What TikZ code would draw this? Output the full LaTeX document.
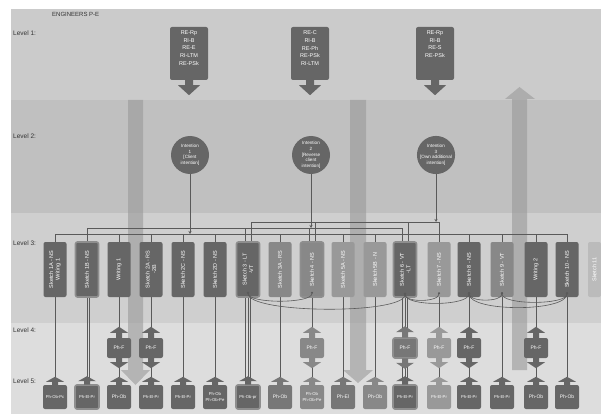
\documentclass[tikz,border=0pt]{standalone}
\usepackage{fontspec}
\setmainfont{Liberation Sans}
\usetikzlibrary{calc,arrows.meta}
\definecolor{dk}{HTML}{666666}
\definecolor{mdA}{HTML}{777777}
\definecolor{md}{HTML}{888888}
\definecolor{lt}{HTML}{999999}
\definecolor{vl}{HTML}{BBBBBB}
\definecolor{frm}{HTML}{8E8E8E}
\definecolor{bandA}{HTML}{CBCBCB}
\definecolor{bandB}{HTML}{C0C0C0}
\definecolor{bandC}{HTML}{CFCFCF}
\definecolor{bandD}{HTML}{DDDDDD}
\definecolor{wirec}{HTML}{5A5A5A}
\definecolor{bigc}{HTML}{999999}
\pgfdeclarelayer{bg}
\pgfsetlayers{bg,main}
\tikzset{
  lvl/.style={anchor=west, font=\fontsize{6.5}{7.5}\selectfont, text=black!80, inner sep=0pt},
  lonebox/.style={fill=dk, rounded corners=2pt, minimum width=38pt, minimum height=53pt, inner sep=0pt},
  lonetext/.style={anchor=north, align=center, text=white, font=\fontsize{5.5}{7.6}\selectfont, inner sep=0pt},
  intent/.style={circle, fill=dk, minimum size=38pt, inner sep=0pt, align=center, text=white, font=\fontsize{4.6}{5.6}\selectfont},
  lthree/.style={rotate=90, minimum width=55pt, minimum height=23pt, rounded corners=2pt, fill=#1, text=white, font=\fontsize{5.5}{6.5}\selectfont, align=center, inner sep=1pt},
  boxframe/.style={draw=frm, line width=1.6pt},
  lfour/.style={minimum width=24pt, minimum height=20pt, rounded corners=2pt, fill=#1, text=white, font=\fontsize{5}{6}\selectfont, inner sep=0pt},
  lfive/.style={minimum width=24pt, minimum height=24pt, rounded corners=2pt, fill=#1, text=white, font=\fontsize{4.2}{5.2}\selectfont, align=center, inner sep=0pt},
  wire/.style={draw=wirec, line width=0.6pt},
  bigarrow/.style={fill=bigc, fill opacity=0.6},
  link/.style={wire, {Circle[length=2pt]}-{Circle[length=2pt]}}
}
\newcommand\onebox[4]{%
  \node[lonebox] (#1) at (#2,53.5) {};
  \node[lonetext] (#1t) at ($(#1.north)+(0,4)$) {#3};
  \fill[dk] ($(#1.south)+(-4,-0.5)$) -- ++(0,5.5) -- ++(-7,0) -- ++(11,10) -- ++(11,-10) -- ++(-7,0) -- ++(0,-5.5) -- cycle;}
\newcommand\fournode[4][]{%
  \node[lfour=#3,#1] (#2) at (#4,348) {Ph-F};
  \fill[#3] ($(#2.north)+(-3,0.5)$) -- ++(0,-5.5) -- ++(-6,0) -- ++(9,-6) -- ++(9,6) -- ++(-6,0) -- ++(0,5.5) -- cycle;
  \fill[#3] ($(#2.south)+(-3,-0.5)$) -- ++(0,4.5) -- ++(-6,0) -- ++(9,6) -- ++(9,-6) -- ++(-6,0) -- ++(0,-4.5) -- cycle;}
\newcommand\fivenode[5][]{%
  \node[lfive=#3,#1] (#2) at (#4,397) {#5};
  \fill[#3] ($(#2.north)+(-3,0.5)$) -- ++(0,-3.5) -- ++(-6,0) -- ++(9,-5) -- ++(9,5) -- ++(-6,0) -- ++(0,3.5) -- cycle;}
\begin{document}
\begin{tikzpicture}[x=1pt,y=-1pt]
\useasboundingbox (0,0) rectangle (601,414);
\clip (0,0) rectangle (601,414);
% labels
\node[lvl, font=\fontsize{6}{7}\selectfont] (title) at (52,14) {ENGINEERS P-E};
\node[lvl] (L1) at (13,33) {Level 1:};
\node[lvl] (L2) at (13,136) {Level 2:};
\node[lvl] (L3) at (13,243) {Level 3:};
\node[lvl] (L4) at (13,330) {Level 4:};
\node[lvl] (L5) at (13,381) {Level 5:};
% level 1
\onebox{r1}{189}{RE-Rp\\RI-B\\RE-E\\RI-LTM\\RE-PSk}{}
\onebox{r2}{310}{RE-C\\RI-B\\RE-Ph\\RE-PSk\\RI-LTM}{}
\onebox{r3}{435}{RE-Rp\\RI-B\\RE-S\\RE-PSk}{}
% level 2
\node[intent] (i1) at (190,155) {Intention\\1\\{[}Client\\intention{]}};
\node[intent] (i2) at (311,155) {Intention\\2\\{[}Reverse\\client\\intention{]}};
\node[intent] (i3) at (436,155) {Intention\\3\\{[}Own additional\\intention{]}};
% level 3
\node[lthree=dk] (s1) at (55,269.5) {Sketch 1A - NS\\Writing 1};
\node[lthree=dk, boxframe] (s2) at (87,269.5) {Sketch 1B - NS};
\node[lthree=dk] (s3) at (119,269.5) {Writing 1};
\node[lthree=dk] (s4) at (151,269.5) {Sketch 2A - RS\\-2B};
\node[lthree=dk] (s5) at (183,269.5) {Sketch 2C - NS};
\node[lthree=dk] (s6) at (215,269.5) {Sketch 2D - NS};
\node[lthree=dk, boxframe] (s7) at (248,269.5) {Sketch 3 - LT\\-VT};
\node[lthree=md] (s8) at (280,269.5) {Sketch 3A - RS};
\node[lthree=md, boxframe] (s9) at (312,269.5) {Sketch 4 - NS};
\node[lthree=lt] (s10) at (343,269.5) {Sketch 5A - NS};
\node[lthree=lt] (s11) at (375,269.5) {Sketch 5B - N};
\node[lthree=dk, boxframe] (s12) at (405,269.5) {Sketch 6 - VT\\-LT};
\node[lthree=lt] (s13) at (439,269.5) {Sketch 7 - NS};
\node[lthree=dk] (s14) at (469,269.5) {Sketch 8 - NS};
\node[lthree=md] (s15) at (502,269.5) {Sketch 9 - VT};
\node[lthree=dk] (s16) at (536,269.5) {Writing 2};
\node[lthree=dk] (s17) at (567,269.5) {Sketch 10 - NS};
\node[lthree=vl, minimum height=13pt] (s18) at (594.5,269.5) {Sketch 11};
% level 4
\fournode{p3}{dk}{119}
\fournode{p4}{dk}{151}
\fournode{p9}{md}{312}
\fournode[boxframe]{p12}{mdA}{405}
\fournode{p13}{lt}{439}
\fournode{p14}{dk}{469}
\fournode{p16}{dk}{536}
% level 5
\fivenode{q1}{dk}{55}{Ph-Ob-Pc}
\fivenode[boxframe]{q2}{dk}{87}{Ph-El-Pr}
\fivenode{q3}{dk}{119}{\fontsize{5}{6}\selectfont Ph-Ob}
\fivenode{q4}{dk}{151}{Ph-El-Pr}
\fivenode{q5}{dk}{183}{Ph-El-Pr}
\fivenode{q6}{dk}{215}{Ph-Ob\\Ph-Ob-Pe}
\fivenode[boxframe]{q7}{dk}{248}{Ph-Ob-pr}
\fivenode{q8}{mdA}{280}{\fontsize{5}{6}\selectfont Ph-Ob}
\fivenode{q9}{md}{312}{Ph-Ob\\Ph-Ob-Pe}
\fivenode{q10}{mdA}{343}{\fontsize{5}{6}\selectfont Ph-El}
\fivenode{q11}{md}{375}{\fontsize{5}{6}\selectfont Ph-Ob}
\fivenode[boxframe]{q12}{dk}{405}{Ph-El-Pr}
\fivenode{q13}{lt}{439}{Ph-El-Pr}
\fivenode{q14}{dk}{469}{Ph-El-Pr}
\fivenode{q15}{dk}{502}{Ph-El-Pr}
\fivenode{q16}{dk}{536}{\fontsize{5}{6}\selectfont Ph-Ob}
\fivenode{q17}{dk}{567}{\fontsize{5}{6}\selectfont Ph-Ob}
% curved links at the foot of level 3
\draw[link] ($(s7.west)+(0,-6)$) .. controls +(0,12) and +(0,12) .. ($(s9.west)+(0,-6)$);
\draw[link] ($(s7.west)+(0,-6)$) .. controls +(0,22) and +(0,22) .. ($(s12.west)+(0,-5)$);
\draw[link] ($(s12.west)+(0,-5)$) .. controls +(0,10) and +(0,10) .. ($(s13.west)+(0,-5)$);
\draw[link] ($(s12.west)+(0,-5)$) .. controls +(0,14) and +(0,14) .. ($(s14.west)+(0,-5)$);
\draw[link] ($(s14.west)+(0,-5)$) .. controls +(0,10) and +(0,10) .. ($(s15.west)+(0,-5)$);
\draw[link] ($(s14.west)+(0,-5)$) .. controls +(0,20) and +(0,20) .. ($(s17.west)+(0,-5)$);
\draw[link] ($(s15.west)+(0,-5)$) .. controls +(0,13) and +(0,13) .. ($(s17.west)+(0,-5)$);
\begin{pgfonlayer}{bg}
\fill[white] (0,0) rectangle (601,414);
\fill[bandA] (11,9) rectangle (601,100);
\fill[bandB] (11,100) rectangle (601,213);
\fill[bandC] (11,213) rectangle (601,323);
\fill[bandD] (11,323) rectangle (601,414);
% big arrows
\fill[bigarrow] (128,100) -- (143,100) -- (143,370) -- (150,370) -- (135.5,385) -- (121,370) -- (128,370) -- cycle;
\fill[bigarrow] (350,100) -- (366,100) -- (366,370) -- (373,370) -- (358,383) -- (343,370) -- (350,370) -- cycle;
\fill[bigarrow] (512,370) -- (527,370) -- (527,99) -- (535,99) -- (519.5,87) -- (505,99) -- (512,99) -- cycle;
% buses
\coordinate (b1) at (0,234);
\coordinate (b2) at (0,228);
\coordinate (b3) at (0,222);
\draw[wire, -{Stealth[length=3pt,width=3pt]}] (i1.south) -- (i1.south |- b1);
\draw[wire, -{Stealth[length=3pt,width=3pt]}] (i2.south) -- (i2.south |- b2);
\draw[wire, -{Stealth[length=3pt,width=3pt]}] (i3.south) -- (i3.south |- b3);
\draw[wire] (s1.east |- b1) -- (s17.east |- b1);
\foreach \i in {1,3,4,5,6,8,10,11,14,15,16,17} {\draw[wire] (s\i.east |- b1) -- (s\i.east);}
\draw[wire] (s2.east |- b2) -- ([xshift=-3pt]s12.east |- b2);
\draw[wire] (s2.east |- b2) -- (s2.east);
\foreach \i in {7,9,12} {\draw[wire] ([xshift=-3pt]s\i.east |- b2) -- ([xshift=-3pt]s\i.east);}
\draw[wire] ([xshift=3pt]s7.east |- b3) -- (s13.east |- b3);
\foreach \i in {7,9,12} {\draw[wire] ([xshift=3pt]s\i.east |- b3) -- ([xshift=3pt]s\i.east);}
\draw[wire] (s13.east |- b3) -- (s13.east);
% drops to levels 4 and 5
\foreach \i in {1,2,5,6,7,8,10,11,15,17} {\draw[wire] (s\i.west) -- ($(q\i.north)+(0,-7)$);}
\foreach \i in {3,4,9,12,13,14,16} {
  \draw[wire] (s\i.west) -- ($(p\i.north)+(0,-10)$);
  \draw[wire] ($(p\i.south)+(0,9)$) -- ($(q\i.north)+(0,-7)$);}
\draw[wire] ([xshift=2pt]s2.west) -- ($(q2.north)+(2,-5)$);
\draw[wire] ([xshift=-2.5pt]s7.west) -- ($(q7.north)+(-2.5,-5)$);
\draw[wire] ([xshift=2.5pt]s7.west) -- ($(q7.north)+(2.5,-5)$);
\draw[wire] ([xshift=-2.5pt]s12.west) -- ($(q12.north)+(-2.5,-5)$);
\draw[wire] ([xshift=2.5pt]s12.west) -- ($(q12.north)+(2.5,-5)$);
\end{pgfonlayer}
\end{tikzpicture}
\end{document}
